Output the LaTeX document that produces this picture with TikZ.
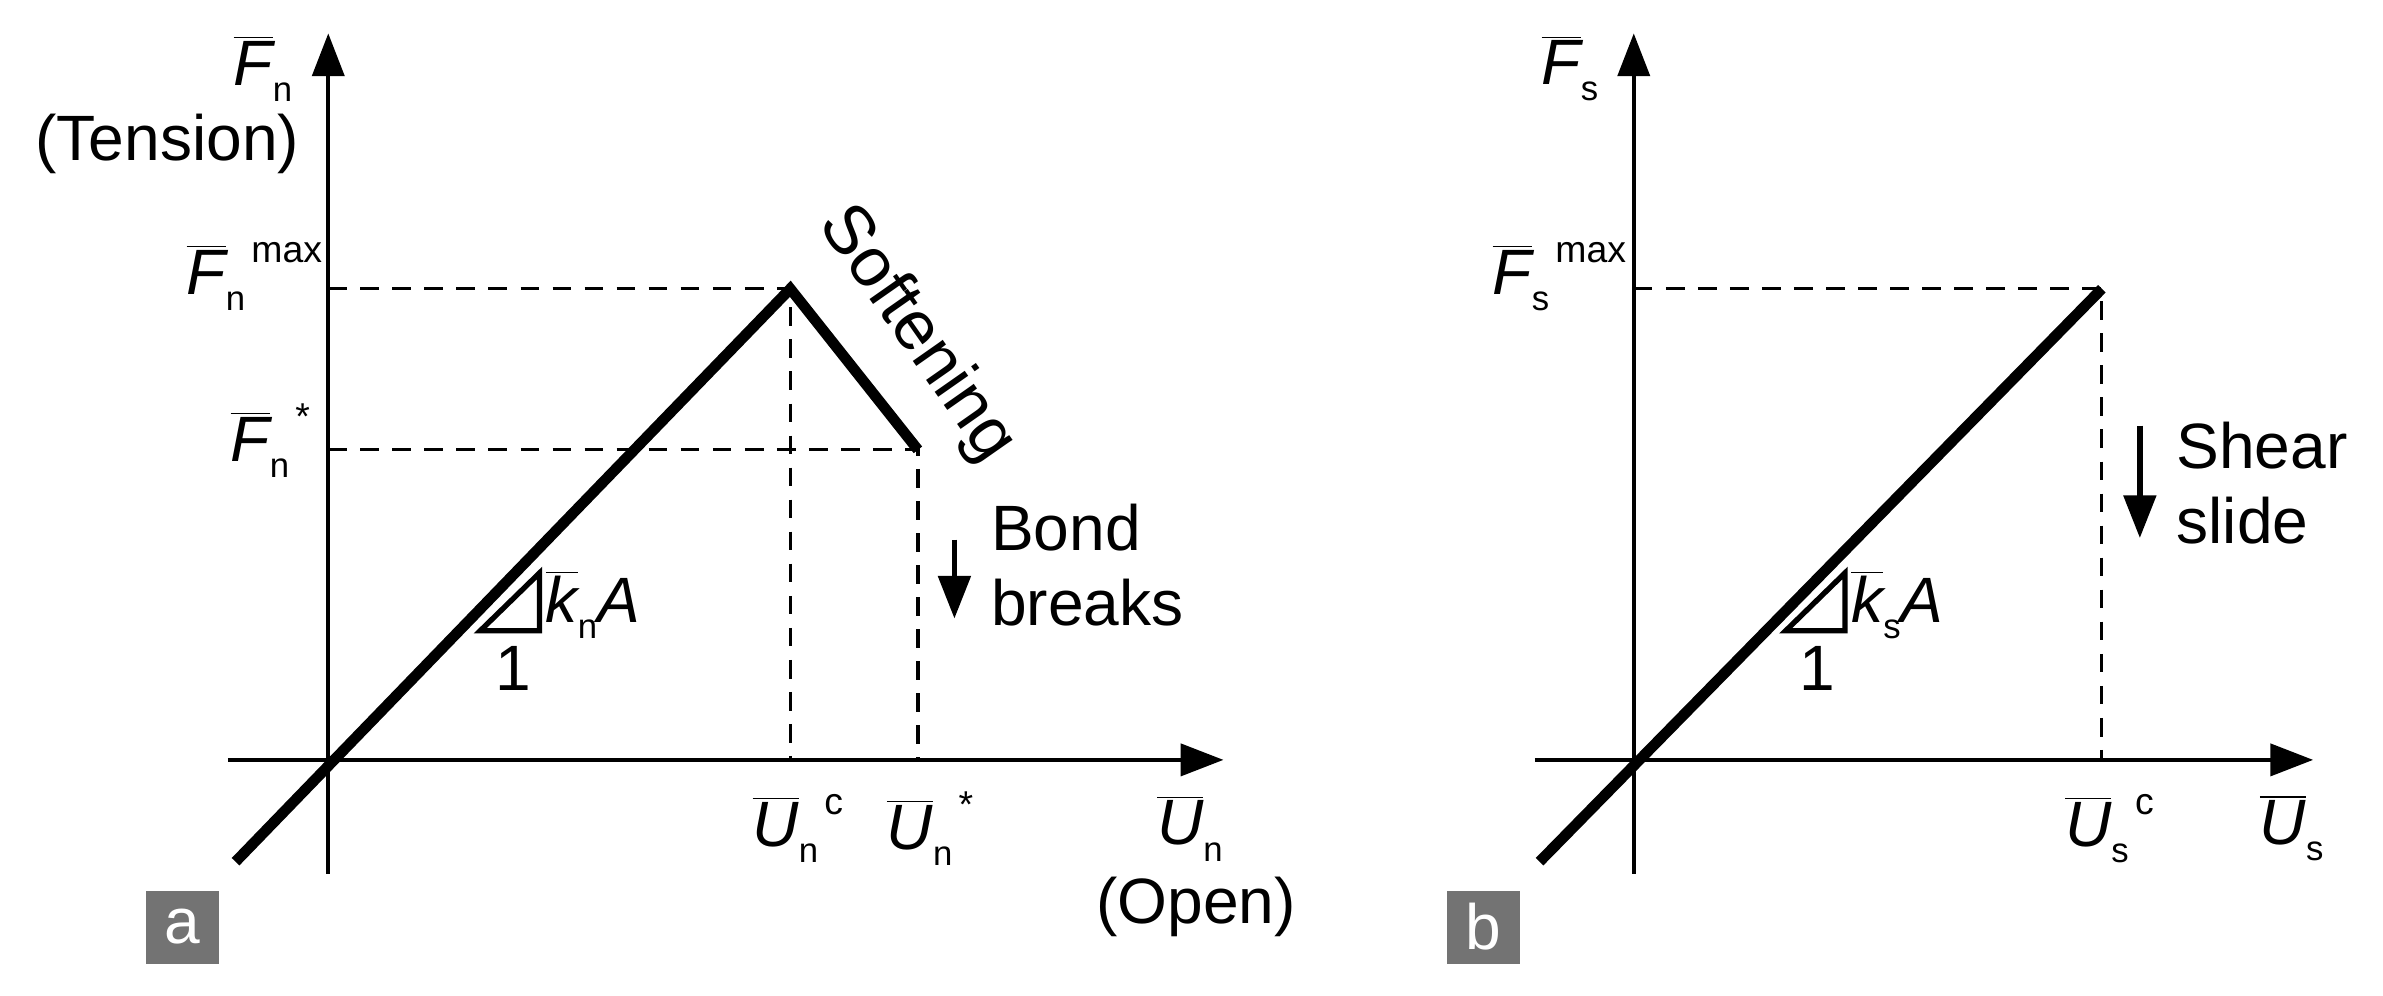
\documentclass[tikz,border=0pt]{standalone}
\usepackage{fontspec}
\setmainfont{Liberation Sans}
\usetikzlibrary{positioning, calc, arrows.meta}
\newcommand{\barq}[1]{$\overline{\mbox{\itshape #1}}$}
\newcommand{\subq}[1]{\raisebox{-0.25em}{\fontsize{13}{13}\selectfont #1}}
\newcommand{\supq}[1]{\raisebox{0.5em}{\fontsize{14}{14}\selectfont\,#1}}
\newcommand{\qlab}[3]{\barq{#1}\subq{#2}\supq{#3}}
\tikzset{
  axis/.style={line width=1.4pt, -{Triangle[length=16pt,width=12pt]}},
  law/.style={line width=4pt},
  guide/.style={line width=1.2pt, dash pattern=on 7pt off 5pt},
  lab/.style={font=\fontsize{24}{28}\selectfont, inner sep=1pt},
  tag/.style={fill=black!55, text=white, minimum size=0.96cm, font=\fontsize{24}{26}\selectfont},
  drop/.style={line width=2pt, -{Triangle[length=16pt,width=12pt]}}
}
\begin{document}
\begin{tikzpicture}[x=0.02cm, y=-0.02cm]
    \useasboundingbox (0,0) rectangle (1568,655);
    % panel a
    \coordinate (oa) at (216,500);
    \coordinate (peaka) at (520,190);
    \coordinate (enda) at (604,296);
    \draw[axis] (216,575) -- (216,22);
    \draw[axis] (150,500) -- (805,500);
    \draw[guide] (216,190) -- (peaka) -- (520,500);
    \draw[guide] (216,296) -- (enda) -- (604,500);
    \draw[law] (155,567) -- (peaka) -- (enda);
    \draw[line width=2pt] (316,415) -- (355,377) -- (355,415) -- cycle;
    \node[lab] (fn) at (175,45) {\qlab{F}{n}{}};
    \node[lab] (tension) at (110,95) {(Tension)};
    \node[lab, left] (fmax) at (214,182) {\qlab{F}{n}{max}};
    \node[lab, left] (fstar) at (206,290) {\qlab{F}{n}{*}};
    \node[lab] (uc) at (525,545) {\qlab{U}{n}{c}};
    \node[lab] (ustar) at (612,545) {\qlab{U}{n}{*}};
    \node[lab] (un) at (785,545) {\qlab{U}{n}{}};
    \node[lab] (open) at (787,597) {(Open)};
    \node[lab, rotate=-55, font=\fontsize{26}{28}\selectfont] (soft) at (603,220) {Softening};
    \node[lab, anchor=west] (kn) at (357,398) {\barq{k}\subq{n}\textit{A}};
    \node[lab] (one) at (338,440) {1};
    \coordinate (bt) at (628,355);
    \coordinate (bb) at (628,407);
    \draw[drop] (bt) -- (bb);
    \node[lab, anchor=west, align=left] (bond) at (650,372) {Bond\\breaks};
    \node[tag] (taga) at (120,610) {a};
    % panel b
    \coordinate (ob) at (1075,500);
    \coordinate (peakb) at (1383,190);
    \draw[axis] (1075,575) -- (1075,22);
    \draw[axis] (1010,500) -- (1522,500);
    \draw[guide] (1075,190) -- (peakb) -- (1383,500);
    \draw[law] (1013,567) -- (peakb);
    \draw[line width=2pt] (1175,415) -- (1214,377) -- (1214,415) -- cycle;
    \node[lab] (fs) at (1035,45) {\qlab{F}{s}{}};
    \node[lab, left] (fsmax) at (1072,182) {\qlab{F}{s}{max}};
    \node[lab] (usc) at (1388,545) {\qlab{U}{s}{c}};
    \node[lab] (us) at (1510,545) {\qlab{U}{s}{}};
    \node[lab, anchor=west] (ks) at (1216,398) {\barq{k}\subq{s}\textit{A}};
    \node[lab] (oneb) at (1196,440) {1};
    \coordinate (st) at (1408,280);
    \coordinate (sb) at (1408,354);
    \draw[drop] (st) -- (sb);
    \node[lab, anchor=west, align=left] (shear) at (1430,318) {Shear\\slide};
    \node[tag] (tagb) at (976,610) {b};
\end{tikzpicture}
\end{document}
